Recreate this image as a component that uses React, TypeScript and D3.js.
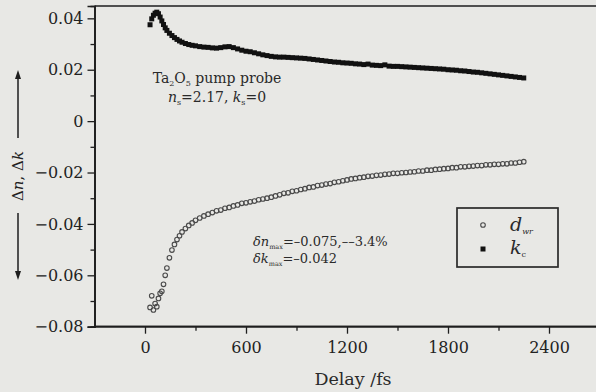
import React, { useEffect, useRef } from 'react';
import * as d3 from 'd3';

// delay grid (fs)
const delays = [
  30, 40, 50, 60, 70, 80, 90, 100, 110, 120, 130, 145, 160, 175, 190, 205, 220, 240, 260, 280,
  300, 325, 350, 375, 400, 425, 450, 475, 500, 525, 550, 575, 600, 625, 650, 675, 700, 725, 750, 775,
  800, 825, 850, 875, 900, 925, 950, 975, 1000, 1025, 1050, 1075, 1100, 1125, 1150, 1175, 1200, 1225, 1250, 1275,
  1300, 1325, 1350, 1375, 1400, 1425, 1450, 1475, 1500, 1525, 1550, 1575, 1600, 1625, 1650, 1675, 1700, 1725, 1750, 1775,
  1800, 1825, 1850, 1875, 1900, 1925, 1950, 1975, 2000, 2025, 2050, 2075, 2100, 2125, 2150, 2175, 2200, 2225, 2250,
];

// open circles
const dwr = [
  -0.0725, -0.068, -0.0735, -0.071, -0.0722, -0.069, -0.067, -0.0662, -0.0635, -0.0600, -0.0572, -0.0532, -0.0502, -0.0480, -0.0461, -0.0446, -0.0431, -0.0418, -0.0406, -0.0396,
  -0.0386, -0.0377, -0.0369, -0.0362, -0.0356, -0.0349, -0.0346, -0.0339, -0.0336, -0.0330, -0.0326, -0.0320, -0.0318, -0.0314, -0.0311, -0.0306, -0.0303, -0.0300, -0.0296, -0.0291,
  -0.0287, -0.0281, -0.0279, -0.0273, -0.0271, -0.0266, -0.0263, -0.0258, -0.0256, -0.0251, -0.0249, -0.0245, -0.0243, -0.0238, -0.0236, -0.0232, -0.0229, -0.0225, -0.0223, -0.0220,
  -0.0218, -0.0215, -0.0214, -0.0211, -0.0210, -0.0207, -0.0206, -0.0203, -0.0203, -0.0201, -0.0200, -0.0198, -0.0197, -0.0194, -0.0194, -0.0191, -0.0191, -0.0188, -0.0187, -0.0185,
  -0.0184, -0.0181, -0.0181, -0.0178, -0.0178, -0.0176, -0.0175, -0.0173, -0.0173, -0.0170, -0.0170, -0.0168, -0.0168, -0.0166, -0.0166, -0.0163, -0.0163, -0.0160, -0.0158,
];

// filled squares
const kc = [
  0.0375, 0.0398, 0.0412, 0.0420, 0.0424, 0.0418, 0.0405, 0.0390, 0.0376, 0.0363, 0.0353, 0.0342, 0.0333, 0.0325, 0.0318, 0.0312, 0.0307, 0.0302, 0.0298, 0.0295,
  0.0293, 0.0290, 0.0288, 0.0287, 0.0285, 0.0284, 0.0286, 0.0289, 0.0290, 0.0286, 0.0281, 0.0276, 0.0272, 0.0270, 0.0266, 0.0262, 0.0258, 0.0255, 0.0252, 0.0250,
  0.0249, 0.0249, 0.0248, 0.0247, 0.0246, 0.0245, 0.0244, 0.0242, 0.0240, 0.0238, 0.0236, 0.0234, 0.0232, 0.0230, 0.0229, 0.0227, 0.0226, 0.0225, 0.0223, 0.0222,
  0.0220, 0.0222, 0.0218, 0.0217, 0.0216, 0.0219, 0.0214, 0.0213, 0.0213, 0.0212, 0.0211, 0.0210, 0.0209, 0.0208, 0.0207, 0.0206, 0.0205, 0.0204, 0.0203, 0.0202,
  0.0200, 0.0199, 0.0198, 0.0196, 0.0195, 0.0193, 0.0191, 0.0190, 0.0188, 0.0186, 0.0184, 0.0182, 0.0180, 0.0178, 0.0176, 0.0174, 0.0172, 0.0170, 0.0168,
];

const xTicks = [0, 600, 1200, 1800, 2400];
const yTicks = [0.04, 0.02, 0, -0.02, -0.04, -0.06, -0.08];

export default function App() {
  const ref = useRef<SVGSVGElement>(null);

  useEffect(() => {
    if (!ref.current) return;
    const svg = d3.select(ref.current);
    svg.selectAll('*').remove();

    const W = 596, H = 392;
    const m = { left: 94.5, top: 6 };
    const font = 'DejaVu Serif';
    const ink = '#1e1e1e';

    svg.append('rect').attr('width', W).attr('height', H).attr('fill', '#e8e8e5');

    const x = d3.scaleLinear().domain([-300, 2700]).range([m.left, 599.5]);
    const y = d3.scaleLinear().domain([-0.08, 0.0448]).range([326.7, m.top]);

    // top frame line
    svg.append('line').attr('x1', m.left).attr('x2', W).attr('y1', y(0.0448)).attr('y2', y(0.0448))
      .attr('stroke', ink).attr('stroke-width', 1.6);

    const yAxis = d3.axisLeft(y).tickValues(yTicks).tickSize(7).tickPadding(4)
      .tickFormat(d => (+d === 0 ? '0' : d3.format('.2f')(+d).replace('-', '\u2212')));
    const gy = svg.append('g').attr('transform', `translate(${m.left},0)`).call(yAxis);
    gy.append('g').call(d3.axisLeft(y).tickValues(d3.range(-0.07, 0.045, 0.02)).tickSize(4).tickFormat(() => ''));

    const xAxis = d3.axisBottom(x).tickValues(xTicks).tickSize(7).tickPadding(8).tickFormat(d3.format('d'));
    const gx = svg.append('g').attr('transform', `translate(0,${y(-0.08)})`).call(xAxis);
    gx.append('g').call(d3.axisBottom(x).tickValues([300, 900, 1500, 2100]).tickSize(4).tickFormat(() => ''));

    [gy, gx].forEach(g => {
      g.attr('font-family', font);
      g.selectAll('path').attr('stroke', ink).attr('stroke-width', 1.7);
      g.selectAll('line').attr('stroke', ink).attr('stroke-width', 1.3);
      g.selectAll('text').attr('fill', '#222').attr('font-family', font).attr('font-size', 16);
    });
    gx.selectAll('.domain').attr('d', `M${m.left},0H${W + 5}`);

    // data
    const pts = delays.map((d, i) => ({ d, a: dwr[i], b: kc[i] }));
    svg.append('g').selectAll('circle').data(pts).join('circle')
      .attr('cx', p => x(p.d)).attr('cy', p => y(p.a)).attr('r', 2.3)
      .attr('fill', 'none').attr('stroke', '#4a4a4a').attr('stroke-width', 1.1);
    svg.append('g').selectAll('rect').data(pts).join('rect')
      .attr('x', p => x(p.d) - 2.5).attr('y', p => y(p.b) - 2.5)
      .attr('width', 5).attr('height', 5).attr('fill', '#111');

    const txt = (xp: number, yp: number, size: number, anchor = 'start') =>
      svg.append('text').attr('x', xp).attr('y', yp).attr('text-anchor', anchor)
        .attr('font-family', font).attr('font-size', size).attr('fill', '#2a2a2a');

    // annotations
    const t1 = txt(217, 83, 14, 'middle');
    t1.append('tspan').text('Ta');
    t1.append('tspan').attr('font-size', 8).attr('dy', 3).text('2');
    t1.append('tspan').attr('dy', -3).text('O');
    t1.append('tspan').attr('font-size', 8).attr('dy', 3).text('5');
    t1.append('tspan').attr('dy', -3).text(' pump probe');

    const t2 = txt(217, 102, 14, 'middle');
    t2.append('tspan').attr('font-style', 'italic').text('n');
    t2.append('tspan').attr('font-size', 8).attr('dy', 3).text('s');
    t2.append('tspan').attr('dy', -3).text('=2.17, ');
    t2.append('tspan').attr('font-style', 'italic').text('k');
    t2.append('tspan').attr('font-size', 8).attr('dy', 3).text('s');
    t2.append('tspan').attr('dy', -3).text('=0');

    const t3 = txt(253, 246, 13);
    t3.append('tspan').attr('font-style', 'italic').text('δn');
    t3.append('tspan').attr('font-size', 6.5).attr('dy', 3).text('max');
    t3.append('tspan').attr('dy', -3).text('=\u20130.075,\u2013\u20133.4%');

    const t4 = txt(253, 263, 13);
    t4.append('tspan').attr('font-style', 'italic').text('δk');
    t4.append('tspan').attr('font-size', 6.5).attr('dy', 3).text('max');
    t4.append('tspan').attr('dy', -3).text('=\u20130.042');

    // legend
    svg.append('rect').attr('x', 457).attr('y', 208).attr('width', 101).attr('height', 59)
      .attr('fill', 'none').attr('stroke', '#2a2a2a').attr('stroke-width', 1.7);
    svg.append('circle').attr('cx', 483).attr('cy', 225).attr('r', 2.3)
      .attr('fill', 'none').attr('stroke', '#4a4a4a').attr('stroke-width', 1.1);
    svg.append('rect').attr('x', 480.5).attr('y', 246.5).attr('width', 5).attr('height', 5).attr('fill', '#111');
    const l1 = txt(510, 231, 19);
    l1.append('tspan').attr('font-style', 'italic').text('d');
    l1.append('tspan').attr('font-style', 'italic').attr('font-size', 8).attr('dy', 3).text('wr');
    const l2 = txt(510, 254, 19);
    l2.append('tspan').attr('font-style', 'italic').text('k');
    l2.append('tspan').attr('font-size', 8).attr('dy', 3).text('c');

    // axis titles
    txt(353, 385, 17.5, 'middle').text('Delay /fs');

    const yl = svg.append('text').attr('transform', 'translate(23,176) rotate(-90)').attr('text-anchor', 'middle')
      .attr('font-family', font).attr('font-size', 15).attr('fill', '#222');
    yl.append('tspan').text('Δ');
    yl.append('tspan').attr('font-style', 'italic').text('n');
    yl.append('tspan').text(', Δ');
    yl.append('tspan').attr('font-style', 'italic').text('k');

    const ax = 18;
    svg.append('line').attr('x1', ax).attr('x2', ax).attr('y1', 138).attr('y2', 76).attr('stroke', ink).attr('stroke-width', 1.5);
    svg.append('path').attr('d', `M${ax - 3},${79}L${ax},${70}L${ax + 3},${79}Z`).attr('fill', ink);
    svg.append('line').attr('x1', ax).attr('x2', ax).attr('y1', 213).attr('y2', 274).attr('stroke', ink).attr('stroke-width', 1.5);
    svg.append('path').attr('d', `M${ax - 3},${271}L${ax},${280}L${ax + 3},${271}Z`).attr('fill', ink);
  }, []);

  return <svg ref={ref} width={596} height={392} style={{ position: 'fixed', left: 0, top: 0 }} />;
}
